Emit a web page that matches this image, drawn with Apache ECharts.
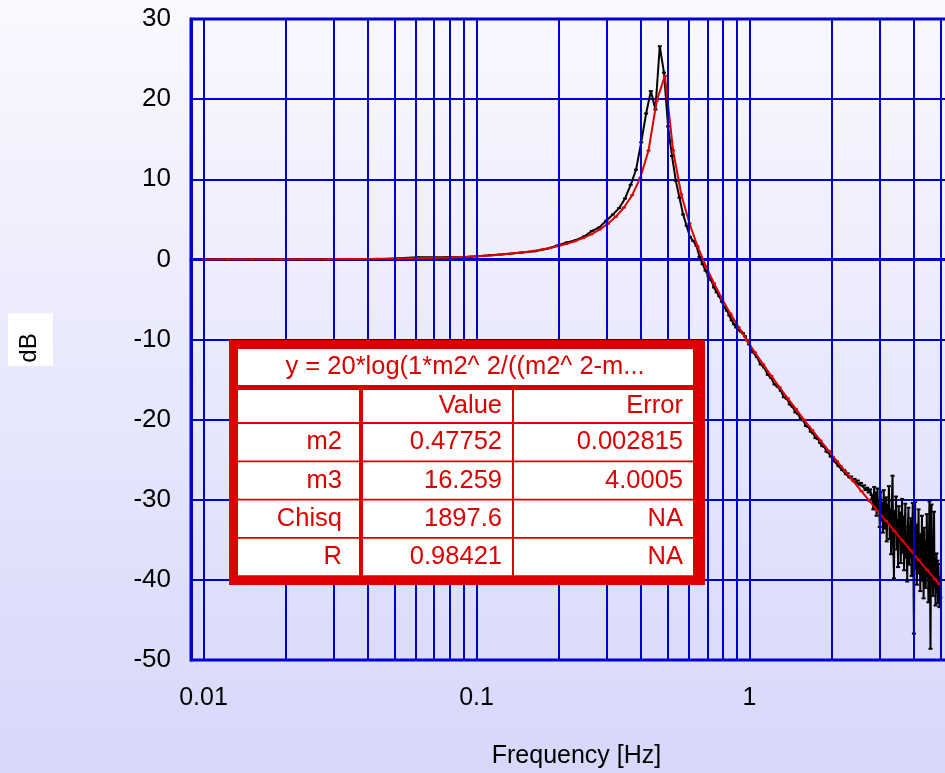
<!DOCTYPE html>
<html>
<head>
<meta charset="utf-8">
<title>Frequency response</title>
<script src="https://cdn.jsdelivr.net/npm/echarts@6/dist/echarts.min.js"></script>
<style>
  html, body { margin: 0; padding: 0; }
  #chart {
    width: 945px; height: 773px;
    background: linear-gradient(to bottom, #F9F9FF 0%, #D7D7FA 100%);
  }
</style>
</head>
<body>
<div id="chart"></div>
<script>
// Measured response: frequency [Hz]
const measFreq = [
  0.010,0.027,0.044,0.061,0.078,0.095,0.112,0.129,0.146,0.163,0.180,0.197,0.214,0.231,0.248,0.265,0.282,0.299,0.316,0.333,
  0.350,0.367,0.384,0.401,0.418,0.435,0.452,0.469,0.486,0.503,0.520,0.537,0.554,0.571,0.588,0.605,0.622,0.639,0.656,0.673,
  0.690,0.707,0.724,0.741,0.758,0.775,0.792,0.809,0.826,0.843,0.860,0.877,0.894,0.911,0.928,0.945,0.962,0.979,0.996,
  1.030,1.064,1.098,1.132,1.166,1.200,1.234,1.268,1.302,1.336,1.370,1.404,1.438,1.472,1.506,1.540,1.574,1.608,1.642,1.676,
  1.710,1.744,1.778,1.812,1.846,1.880,1.914,1.948,1.982,2.016,2.050,2.084,2.118,2.152,2.186,2.220,2.254,2.288,2.322,2.356,
  2.390,2.424,2.458,2.492,2.526,2.560,2.594,2.628,2.662,2.696,2.730,2.764,2.798,
  2.82,2.84,2.86,2.88,2.90,2.92,2.94,2.96,2.98,3.00,3.02,3.04,3.06,3.08,3.10,3.12,3.14,3.16,3.18,3.20,
  3.22,3.24,3.26,3.28,3.30,3.32,3.34,3.36,3.38,3.40,3.42,3.44,3.46,3.48,3.50,3.52,3.54,3.56,3.58,3.60,
  3.62,3.64,3.66,3.68,3.70,3.72,3.74,3.76,3.78,3.80,3.82,3.84,3.86,3.88,3.90,3.92,3.94,3.96,3.98,4.00,
  4.02,4.04,4.06,4.08,4.10,4.12,4.14,4.16,4.18,4.20,4.22,4.24,4.26,4.28,4.30,4.32,4.34,4.36,4.38,4.40,
  4.42,4.44,4.46,4.48,4.50,4.52,4.54,4.56,4.58,4.60,4.62,4.64,4.66,4.68,4.70,4.72,4.74,4.76,4.78,4.80,
  4.82,4.84,4.86,4.88,4.90,4.92,4.94,4.96,4.98,5.00
];
// Measured response: level [dB]
const measDb = [
  0.00,0.00,0.02,0.25,0.28,0.33,0.52,0.68,0.85,1.02,1.30,1.72,2.10,2.40,2.85,3.55,4.00,4.85,5.60,6.40,
  7.60,9.30,11.20,14.60,18.20,21.00,18.70,26.60,23.30,16.60,12.90,9.80,7.70,5.60,4.20,2.80,2.30,1.70,0.30,-0.60,
  -1.40,-2.10,-2.60,-3.50,-4.10,-4.60,-5.30,-6.00,-6.40,-7.00,-7.60,-8.10,-8.50,-8.80,-9.00,-9.20,-9.60,-10.10,-10.60,
  -11.6,-12.2,-13.1,-13.5,-14.4,-14.8,-15.6,-15.9,-16.4,-17.2,-17.4,-18.1,-18.4,-19.1,-19.3,-19.9,-20.1,-20.8,-20.9,-21.5,
  -21.7,-22.3,-22.4,-22.9,-23.3,-23.4,-24.0,-24.1,-24.6,-24.7,-25.2,-25.3,-25.8,-25.8,-26.3,-26.3,-26.8,-26.7,-27.2,-27.1,
  -27.5,-27.4,-27.8,-27.6,-28.1,-27.9,-28.3,-28.2,-28.8,-28.5,-29.1,-28.7,-29.4,
  -29.8,-31.2,-28.4,-30.9,-29.1,-32.0,-28.6,-31.5,-30.2,-33.4,-29.0,-32.6,-30.4,-34.1,-28.8,-31.9,-33.6,-29.7,-35.2,-30.6,
  -32.8,-28.3,-34.9,-31.2,-36.8,-30.1,-27.0,-35.6,-39.8,-31.4,-33.9,-29.6,-36.2,-32.5,-38.4,-30.8,-34.7,-31.6,-37.9,-33.2,
  -29.9,-36.6,-32.1,-38.8,-34.0,-30.5,-37.2,-35.1,-40.2,-33.4,-31.0,-38.1,-34.8,-36.9,-32.3,-39.5,-35.7,-30.4,-37.8,-46.7,
  -34.2,-30.3,-38.6,-35.0,-40.6,-33.1,-36.4,-31.2,-39.2,-35.8,-41.4,-34.3,-37.6,-32.0,-40.1,-36.0,-42.3,-33.5,-38.7,-35.2,
  -41.0,-37.1,-31.8,-39.6,-36.5,-42.8,-34.6,-30.2,-40.3,-48.6,-37.0,-30.6,-39.9,-35.4,-42.0,-36.8,-31.5,-40.8,-37.4,-43.2,
  -38.5,-36.7,-41.5,-37.6,-42.9,-38.0,-41.8,-43.4,-39.6,-42.2
];
// Fitted model: frequency [Hz]
const fitFreq = [
  0.0100,0.0123,0.0151,0.0186,0.0229,0.0282,0.0347,0.0427,0.0525,0.0646,0.0794,0.0933,
  0.10715,0.11482,0.12303,0.13183,0.14125,0.15136,0.16218,0.17378,0.18621,0.19953,
  0.21380,0.22909,0.24547,0.26303,0.28184,0.30200,0.32359,0.34674,0.37154,0.39811,
  0.42658,0.45709,0.48978,0.52481,0.56234,0.60256,0.64565,0.69183,0.74131,0.79433,
  0.85114,0.91201,0.97724,1.0471,1.1220,1.2023,1.2882,1.3804,1.4791,1.5849,
  1.6982,1.8197,1.9498,2.0893,2.2387,2.3988,2.5704,2.7542,2.9512,3.1623,
  3.3884,3.6308,3.8905,4.1687,4.4668,4.7863,4.95
];
// Fitted model: level [dB]
const fitDb = [
  0.00,0.01,0.01,0.01,0.02,0.03,0.05,0.07,0.11,0.16,0.24,0.34,
  0.45,0.52,0.60,0.69,0.80,0.92,1.06,1.23,1.43,1.67,
  1.94,2.27,2.66,3.13,3.71,4.42,5.31,6.47,8.01,10.19,
  13.58,19.80,22.90,13.60,8.10,4.48,1.59,-0.85,-3.00,-4.96,
  -6.77,-8.47,-10.08,-11.62,-13.11,-14.55,-15.96,-17.34,-18.69,-20.02,
  -21.33,-22.62,-23.90,-25.18,-26.44,-27.69,-28.94,-30.18,-31.41,-32.64,
  -33.87,-35.09,-36.31,-37.53,-38.74,-39.95,-40.54
];
// Vertical grid lines: 1..9 within each decade
const gridFreq = [
  0.01,0.02,0.03,0.04,0.05,0.06,0.07,0.08,0.09,
  0.1,0.2,0.3,0.4,0.5,0.6,0.7,0.8,0.9,
  1,2,3,4,5
];
const xTickLabels = [0.01, 0.1, 1];
const yTicks = [-50, -40, -30, -20, -10, 0, 10, 20, 30];

// Fit result table
const fitTitle = 'y = 20*log(1*m2^ 2/((m2^ 2-m...';
const fitColumns = ['', 'Value', 'Error'];
const fitParams = ['m2', 'm3', 'Chisq', 'R'];
const fitValues = ['0.47752', '16.259', '1897.6', '0.98421'];
const fitErrors = ['0.002815', '4.0005', 'NA', 'NA'];

const BLUE = '#0000D4';
const RED = '#DC0000';
const FONT = '"Liberation Sans", Arial, sans-serif';

// Table drawn as graphic elements
const tableFont = '25.5px ' + FONT;
const gfx = [];
gfx.push({ type: 'rect', z: 50, shape: { x: 229, y: 340, width: 476, height: 245 }, style: { fill: RED } });
gfx.push({ type: 'rect', z: 51, shape: { x: 238, y: 349, width: 455, height: 36 }, style: { fill: '#fff' } });
gfx.push({ type: 'text', z: 52, x: 465, y: 367,
  style: { text: fitTitle, fill: RED, font: tableFont, align: 'center', verticalAlign: 'middle' } });
const colX = [[238, 359], [363, 512], [514, 693]];
const colRight = [342, 502, 683];
const rows = [fitColumns].concat(fitParams.map((p, i) => [p, fitValues[i], fitErrors[i]]));
rows.forEach((row, r) => {
  const top = r === 0 ? 390 : 424 + (r - 1) * 38.25;
  const h = r === 0 ? 32 : 36.5;
  row.forEach((cell, c) => {
    gfx.push({ type: 'rect', z: 51, shape: { x: colX[c][0], y: top, width: colX[c][1] - colX[c][0], height: h },
      style: { fill: '#fff' } });
    if (cell) {
      gfx.push({ type: 'text', z: 52, x: colRight[c], y: top + h / 2,
        style: { text: cell, fill: RED, font: tableFont, align: 'right', verticalAlign: 'middle' } });
    }
  });
});

const chart = echarts.init(document.getElementById('chart'), null, { renderer: 'canvas' });
chart.setOption({
  backgroundColor: 'transparent',
  animation: false,
  grid: {
    left: 191, top: 19, width: 771, height: 641,
    outerBoundsMode: 'none', containLabel: false,
    show: true, borderColor: BLUE, borderWidth: 3, backgroundColor: 'transparent'
  },
  xAxis: {
    type: 'log', logBase: 10, min: 0.009, max: 6,
    name: 'Frequency [Hz]', nameLocation: 'middle', nameGap: 84,
    nameTextStyle: { fontFamily: FONT, fontSize: 25, color: '#000' },
    axisLine: { show: true, lineStyle: { color: BLUE, width: 3 } },
    axisTick: { show: false },
    splitLine: { show: false },
    minorSplitLine: { show: false },
    axisLabel: {
      margin: 26, fontFamily: FONT, fontSize: 25, color: '#000',
      showMinLabel: true, showMaxLabel: true,
      formatter: function (v) {
        const hit = xTickLabels.find(t => Math.abs(Math.log10(v) - Math.log10(t)) < 1e-6);
        return hit !== undefined ? String(hit) : '';
      }
    }
  },
  yAxis: {
    type: 'value', min: yTicks[0], max: yTicks[yTicks.length - 1], interval: 10,
    name: 'dB', nameLocation: 'middle', nameRotate: 90, nameGap: 138,
    nameTextStyle: { fontFamily: FONT, fontSize: 24, color: '#000', backgroundColor: '#fff', padding: [9, 20, 12, 3] },
    axisLine: { show: true, lineStyle: { color: BLUE, width: 3 } },
    axisTick: { show: false },
    splitLine: { show: true, lineStyle: { color: BLUE, width: 2 } },
    axisLabel: { margin: 20, fontFamily: FONT, fontSize: 26, color: '#000' }
  },
  series: [
    {
      type: 'line', name: 'grid', data: [], silent: true, z: 1,
      markLine: {
        silent: true, animation: false, symbol: ['none', 'none'],
        label: { show: false },
        lineStyle: { color: BLUE, width: 2, type: 'solid' },
        data: gridFreq.map(v => ({ xAxis: v }))
      }
    },
    {
      type: 'line', name: 'measured', z: 3,
      data: measFreq.map((f, i) => [f, measDb[i]]),
      symbol: 'rect', symbolSize: [4, 2], showSymbol: true,
      lineStyle: { color: '#000', width: 2 },
      itemStyle: { color: '#000' }
    },
    {
      type: 'line', name: 'fit', z: 4,
      data: fitFreq.map((f, i) => [f, fitDb[i]]),
      symbol: 'rect', symbolSize: [4, 2], showSymbol: true,
      lineStyle: { color: '#E00000', width: 2 },
      itemStyle: { color: '#E00000' }
    }
  ],
  graphic: gfx
});
</script>
</body>
</html>
